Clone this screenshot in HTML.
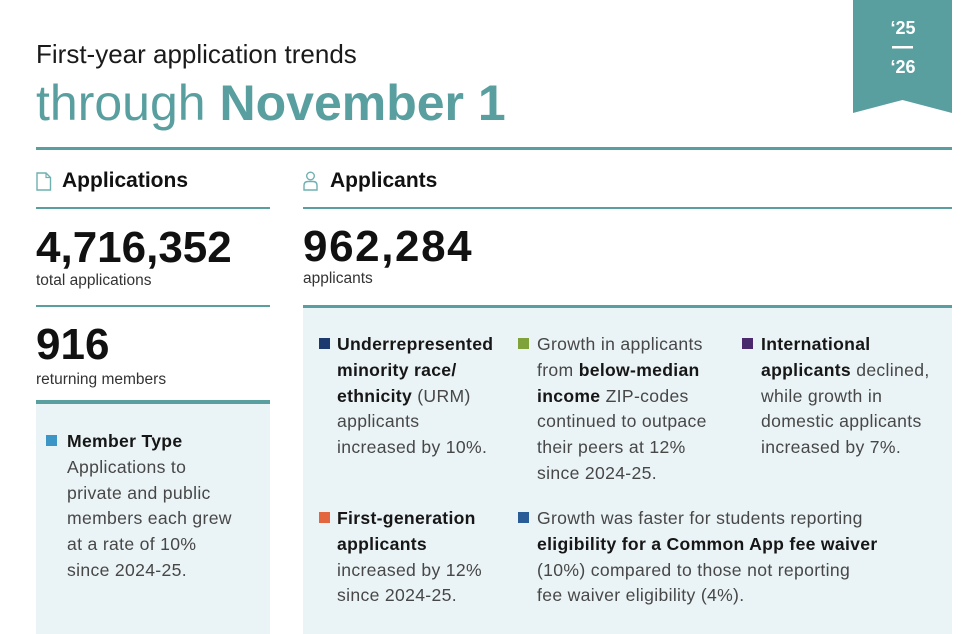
<!DOCTYPE html>
<html>
<head>
<meta charset="utf-8">
<style>
  html,body{margin:0;padding:0;}
  body{width:977px;height:634px;position:relative;overflow:hidden;background:#ffffff;font-family:"Liberation Sans",Arial,sans-serif;color:#111;}
  .abs{position:absolute;white-space:nowrap;}
  .teal{color:#5a9fa0;}
  .line{position:absolute;background:#5a9fa0;}
  .panel{position:absolute;background:#eaf3f5;}
  .body{position:absolute;font-size:17.6px;line-height:25.8px;color:#474747;white-space:nowrap;letter-spacing:0.32px;}
  .body b{color:#161616;font-weight:bold;letter-spacing:0.3px;}
  .sq{position:absolute;width:11px;height:11px;}
</style>
</head>
<body>

<!-- Title -->
<div class="abs" style="left:36px;top:41px;font-size:26px;line-height:26px;color:#1a1a1a;">First-year application trends</div>
<div class="abs teal" style="left:36px;top:78px;font-size:50px;line-height:50px;">through <b>November 1</b></div>

<!-- Ribbon -->
<svg style="position:absolute;left:853px;top:0;" width="99" height="114" viewBox="0 0 99 114">
  <polygon points="0,0 99,0 99,113 49.5,100 0,113" fill="#5a9fa0"/>
  <text x="50" y="34" text-anchor="middle" font-family="Liberation Sans, Arial, sans-serif" font-weight="bold" font-size="18" fill="#ffffff">‘25</text>
  <rect x="39" y="46" width="21" height="2.5" fill="#ffffff"/>
  <text x="50" y="73" text-anchor="middle" font-family="Liberation Sans, Arial, sans-serif" font-weight="bold" font-size="18" fill="#ffffff">‘26</text>
</svg>

<!-- Top rule -->
<div class="line" style="left:36px;top:147px;width:916px;height:3px;"></div>

<!-- Section headings -->
<svg style="position:absolute;left:36px;top:172px;" width="16" height="19" viewBox="0 0 16 19">
  <path d="M1,1 H10 L14.5,5.5 V18 H1 Z" fill="none" stroke="#6fb0b1" stroke-width="1.4"/>
  <path d="M10,1 V5.5 H14.5" fill="none" stroke="#6fb0b1" stroke-width="1.2"/>
</svg>
<div class="abs" style="left:62px;top:170px;font-size:21px;line-height:21px;font-weight:bold;color:#111;">Applications</div>

<svg style="position:absolute;left:303px;top:171px;" width="15" height="20" viewBox="0 0 15 20">
  <circle cx="7.5" cy="5" r="3.8" fill="none" stroke="#6fb0b1" stroke-width="1.4"/>
  <path d="M1,19 V14.5 Q1,10.5 5,10.5 H10 Q14,10.5 14,14.5 V19 Z" fill="none" stroke="#6fb0b1" stroke-width="1.4"/>
</svg>
<div class="abs" style="left:330px;top:170px;font-size:21px;line-height:21px;font-weight:bold;color:#111;">Applicants</div>

<div class="line" style="left:36px;top:207px;width:234px;height:2px;"></div>
<div class="line" style="left:303px;top:207px;width:649px;height:2px;"></div>

<!-- Left stats -->
<div class="abs" style="left:36px;top:226px;font-size:44px;line-height:44px;font-weight:bold;color:#111;">4,716,352</div>
<div class="abs" style="left:36px;top:273px;font-size:15.5px;line-height:15.5px;color:#333;">total applications</div>
<div class="line" style="left:36px;top:305px;width:234px;height:2px;"></div>
<div class="abs" style="left:36px;top:323px;font-size:44px;line-height:44px;font-weight:bold;color:#111;">916</div>
<div class="abs" style="left:36px;top:372px;font-size:15.5px;line-height:15.5px;color:#333;">returning members</div>

<!-- Right stats -->
<div class="abs" style="left:303px;top:225px;font-size:44px;line-height:44px;font-weight:bold;color:#111;letter-spacing:1.6px;">962,284</div>
<div class="abs" style="left:303px;top:271px;font-size:15.5px;line-height:15.5px;color:#333;">applicants</div>

<!-- Left panel -->
<div class="panel" style="left:36px;top:400px;width:234px;height:234px;"></div>
<div class="line" style="left:36px;top:400px;width:234px;height:4px;"></div>
<div class="sq" style="left:46px;top:435px;background:#3b96c6;"></div>
<div class="body" style="left:67px;top:429px;"><b>Member Type</b><br>Applications to<br>private and public<br>members each grew<br>at a rate of 10%<br>since 2024-25.</div>

<!-- Right panel -->
<div class="panel" style="left:303px;top:305px;width:649px;height:329px;"></div>
<div class="line" style="left:303px;top:305px;width:649px;height:3px;"></div>

<div class="sq" style="left:319px;top:338px;background:#1d3a6e;"></div>
<div class="body" style="left:337px;top:332px;"><b>Underrepresented</b><br><b>minority race/</b><br><b>ethnicity</b> (URM)<br>applicants<br>increased by 10%.</div>

<div class="sq" style="left:518px;top:338px;background:#7fa23a;"></div>
<div class="body" style="left:537px;top:332px;">Growth in applicants<br>from <b>below-median</b><br><b>income</b> ZIP-codes<br>continued to outpace<br>their peers at 12%<br>since 2024-25.</div>

<div class="sq" style="left:742px;top:338px;background:#4a2a6c;"></div>
<div class="body" style="left:761px;top:332px;"><b>International</b><br><b>applicants</b> declined,<br>while growth in<br>domestic applicants<br>increased by 7%.</div>

<div class="sq" style="left:319px;top:512px;background:#e3663f;"></div>
<div class="body" style="left:337px;top:506px;"><b>First-generation</b><br><b>applicants</b><br>increased by 12%<br>since 2024-25.</div>

<div class="sq" style="left:518px;top:512px;background:#2a5c98;"></div>
<div class="body" style="left:537px;top:506px;">Growth was faster for students reporting<br><b>eligibility for a Common App fee waiver</b><br>(10%) compared to those not reporting<br>fee waiver eligibility (4%).</div>

</body>
</html>
